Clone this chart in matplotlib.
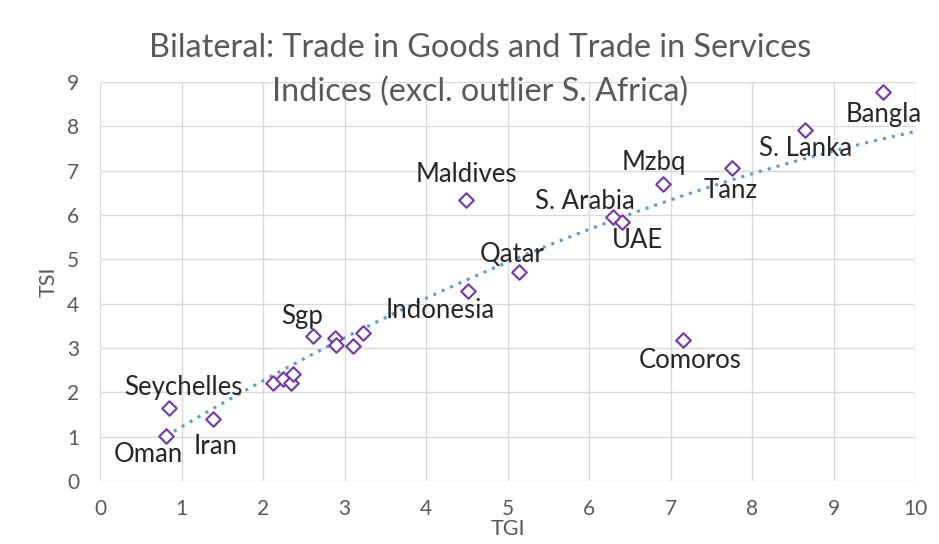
import numpy as np
import matplotlib.pyplot as plt

# Datos
tgi = [0.81, 0.85, 1.39, 2.12, 2.24, 2.34, 2.37, 2.61, 2.88, 2.90, 3.11, 3.23,
       4.51, 4.49, 5.14, 6.29, 6.41, 6.91, 7.76, 8.65, 9.61, 7.15]
tsi = [1.02, 1.65, 1.40, 2.20, 2.30, 2.20, 2.41, 3.26, 3.22, 3.07, 3.05, 3.33,
       4.29, 6.34, 4.71, 5.95, 5.85, 6.70, 7.07, 7.92, 8.77, 3.18]
etiquetas = ["Oman", "Seychelles", "Iran", "", "", "", "", "Sgp", "", "", "", "",
             "Indonesia", "Maldives", "Qatar", "S. Arabia", "UAE", "Mzbq", "Tanz",
             "S. Lanka", "Bangla", "Comoros"]

# Puntos de la línea de tendencia
tend_x = [0.86, 1.60, 2.09, 2.82, 3.19, 4.29, 5.03, 5.64, 6.75, 7.98, 9.98]
tend_y = [1.11, 1.90, 2.24, 3.00, 3.41, 4.46, 4.91, 5.51, 6.12, 6.91, 7.88]

# Desplazamiento de cada etiqueta respecto a su punto (unidades de datos)
desplaz = {"Oman": (-0.22, -0.43), "Seychelles": (0.17, 0.47), "Iran": (0.03, -0.63),
           "Sgp": (-0.13, 0.46), "Indonesia": (-0.33, -0.45), "Maldives": (0.0, 0.57),
           "Qatar": (-0.08, 0.41), "S. Arabia": (-0.34, 0.35), "UAE": (0.19, -0.43),
           "Mzbq": (-0.11, 0.48), "Tanz": (-0.02, -0.52), "S. Lanka": (0.01, -0.43),
           "Bangla": (0.0, -0.51), "Comoros": (0.09, -0.47)}

plt.rcParams['font.family'] = ['Lato', 'DejaVu Sans']

fig = plt.figure(figsize=(9.39, 5.44), dpi=100)
ax = fig.add_axes([100/939, 1-481/544, 815/939, 399/544])

# Línea de tendencia (polinómica de orden 2) ajustada a los puntos leídos
coef = np.polyfit(tend_x, tend_y, 2)
xs = np.linspace(min(tgi), 10, 200)
ax.plot(xs, np.polyval(coef, xs), linestyle=(0, (1, 2)), color="#5B9BD5", linewidth=2.2, zorder=2)

ax.scatter(tgi, tsi, marker="D", s=55, facecolors="white", edgecolors="#7534B0",
           linewidths=1.5, zorder=3)

for x, y, nombre in zip(tgi, tsi, etiquetas):
    if nombre:
        dx, dy = desplaz[nombre]
        ax.text(x + dx, y + dy, nombre, ha="center", va="center", fontsize=18.5,
                color="#262626", zorder=4)

ax.set_xlim(0, 10)
ax.set_ylim(0, 9)
ax.set_xticks(range(0, 11))
ax.set_yticks(range(0, 10))
ax.grid(True, color="#D9D9D9", linewidth=1)
ax.set_axisbelow(True)
for s in ax.spines.values():
    s.set_visible(False)
ax.tick_params(length=0, labelsize=15, labelcolor="#595959")
ax.tick_params(axis="x", pad=13)
ax.tick_params(axis="y", pad=15)
ax.set_xlabel("TGI", fontsize=15.5, color="#595959", labelpad=0)
ax.set_ylabel("TSI", fontsize=15.5, color="#595959", labelpad=6)

fig.text(0.511, 1-48/544, "Bilateral: Trade in Goods and Trade in Services", ha="center", va="center",
         fontsize=23.3, color="#595959")
fig.text(0.511, 1-92/544, "Indices (excl. outlier S. Africa)", ha="center", va="center",
         fontsize=23.3, color="#595959")

fig.savefig("out.png", dpi=100)
